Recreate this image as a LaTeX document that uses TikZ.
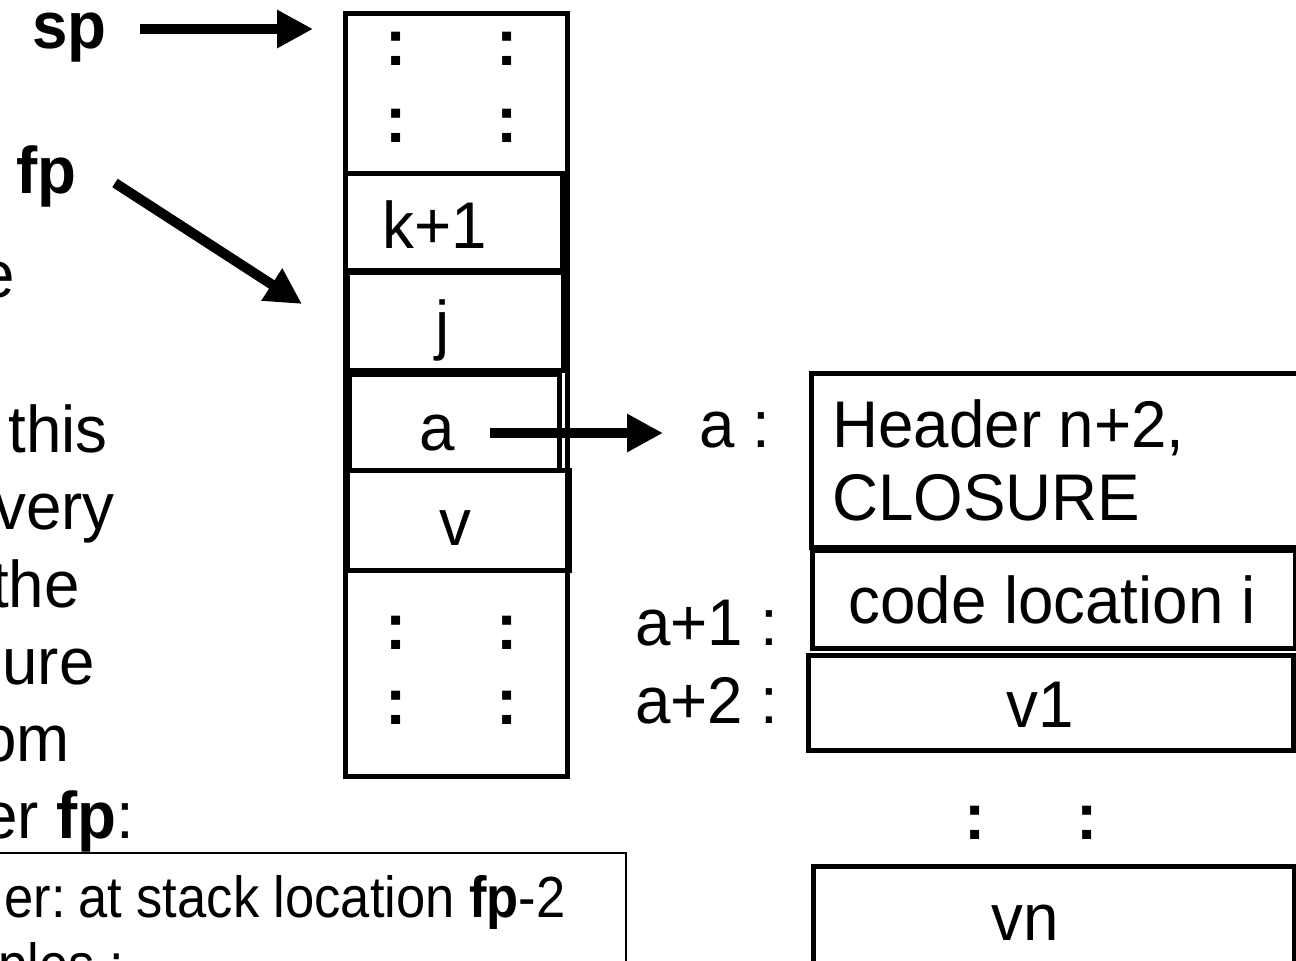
\documentclass[tikz,border=0pt]{standalone}
\usepackage{fontspec}
\setmainfont[FakeStretch=0.965]{Liberation Sans}
\newfontfamily\notefont[FakeStretch=0.905]{Liberation Sans}
\usetikzlibrary{arrows.meta}
\begin{document}
\begin{tikzpicture}[x=0.5pt,y=-0.5pt,
  big/.style={font=\fontsize{33}{39}\selectfont, inner sep=0pt},
  bigbold/.style={font=\fontsize{33}{39}\selectfont\bfseries, inner sep=0pt},
  small/.style={font=\notefont\fontsize{29}{34}\selectfont, inner sep=0pt},
  cell/.style={draw, line width=2.5pt},
  thinbox/.style={draw, line width=0.8pt},
  ptr/.style={line width=5pt, -{Triangle[length=18pt,width=18pt]}},
  colon/.style={bigbold, anchor=base},
]
\useasboundingbox (0,0) rectangle (1296,960);
\clip (0,0) rectangle (1296,960);

% ---- running text on the left ----
\node[big, anchor=base east] (t1) at (15,297) {e};
\node[big, anchor=base east] (t2) at (108,452) {this};
\node[big, anchor=base east] (t3) at (115,529) {very};
\node[big, anchor=base east] (t4) at (80,607) {the};
\node[big, anchor=base east] (t5) at (95,684) {ure};
\node[big, anchor=base east] (t6) at (70,761) {om};
\node[big, anchor=base east] (t7) at (135,838) {er \textbf{fp}:};

% ---- register labels ----
\node[bigbold, anchor=base west] (sp) at (32,48) {sp};
\node[bigbold, anchor=base west] (fp) at (16,193) {fp};
\coordinate (sptip) at (313,29);
\coordinate (sptail) at (140,29);
\coordinate (fptail) at (115,183);
\coordinate (fptip) at (302,304);

% ---- stack ----
\draw[cell] (345,13) rectangle (567,776);
\draw[cell] (345,173) rectangle (562,270);
\draw[cell] (347,272) rectangle (563,370);
\draw[cell] (349,374) rectangle (559,470);
\draw[cell] (347,470) rectangle (569,570);

\foreach \cx in {396,507}{
  \foreach \by in {65,142,649,724}{
    \node[colon] at (\cx,\by) {:};
  }
}
\node[big, anchor=base] (k1) at (435,248) {k+1};
\node[big, anchor=base] (j) at (443,347) {j};
\node[big, anchor=base] (a) at (437,450) {a};
\node[big, anchor=base] (v) at (455,545) {v};
\coordinate (atail) at (490,433);
\coordinate (atip) at (663,433);

% ---- heap object ----
\draw[cell] (811,373) rectangle (1310,547);
\draw[cell] (812,550) rectangle (1295,648);
\draw[cell] (808,655) rectangle (1293,750);
\draw[cell] (813,866) rectangle (1294,965);

\node[big, anchor=base west] (hdr) at (832,447) {Header n+2,};
\node[big, anchor=base west] (clo) at (832,520) {CLOSURE};
\node[big, anchor=base] (code) at (1052,623) {code location i};
\node[big, anchor=base] (v1) at (1040,727) {v1};
\node[big, anchor=base] (vn) at (1025,940) {vn};
\node[colon] at (975,839) {:};
\node[colon] at (1087,839) {:};

\node[big, anchor=base east] (la) at (771,447) {a :};
\node[big, anchor=base east] (la1) at (779,645) {a+1 :};
\node[big, anchor=base east] (la2) at (779,723) {a+2 :};

% ---- note box ----
\draw[thinbox] (-10,853) rectangle (626,990);
\node[small, anchor=base east] (n1) at (566,917) {er:\hspace{0.22em}at stack location \textbf{fp}-2};
\node[small, anchor=base west] (n2) at (-2,984) {ples :};

% ---- pointers ----
\draw[ptr] (sptail) -- (sptip);
\draw[ptr] (fptail) -- (fptip);
\draw[ptr] (atail) -- (atip);
\end{tikzpicture}
\end{document}
